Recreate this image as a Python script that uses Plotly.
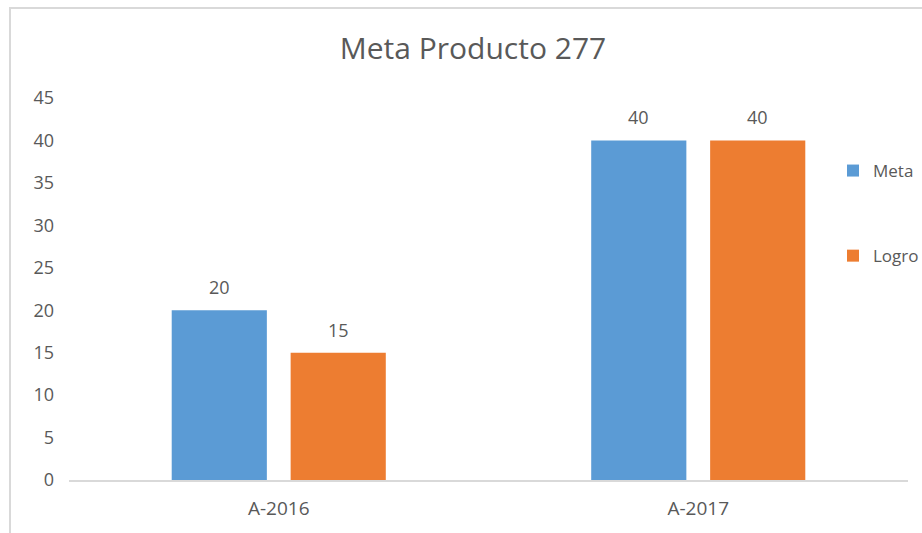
import plotly.graph_objects as go

# Data
categories = ["A-2016", "A-2017"]
meta_values = [20, 40]
logro_values = [15, 40]
series_names = ["Meta", "Logro"]
y_ticks = [0, 5, 10, 15, 20, 25, 30, 35, 40, 45]

BLUE = "#5B9BD5"
ORANGE = "#ED7D31"
TEXT = "#595959"
FONT = "Open Sans"

W, H = 922, 533
ML, MR, MT, MB = 69, 14, 98, 53
BARGAP = 0.433
BARGROUPGAP = 0.2

fig = go.Figure()
for name, vals, color, grp in [
    (series_names[0], meta_values, BLUE, "g1"),
    (series_names[1], logro_values, ORANGE, "g2"),
]:
    fig.add_trace(go.Bar(
        x=categories, y=vals, name=name,
        marker=dict(color=color, line=dict(width=0)),
        legendgroup=grp,
    ))

# Value labels above each bar, offset to the centre of each bar slot
slot = (1 - BARGAP) / 2
offsets = [-slot / 2, slot / 2]
annotations = []
for s, vals in enumerate([meta_values, logro_values]):
    for i, v in enumerate(vals):
        annotations.append(dict(
            x=i + offsets[s], y=v, xref="x", yref="y",
            text=str(v), showarrow=False, yshift=23,
            font=dict(family=FONT, size=18, color=TEXT),
        ))

pw = W - ML - MR
ph = H - MT - MB
# Chart-area frame (left and top edges visible, rest runs off the page)
frame = dict(
    type="rect", xref="paper", yref="paper",
    x0=(10 - ML) / pw, x1=(W + 10 - ML) / pw,
    y0=-(H + 10 - MT - ph) / ph, y1=(H - MB - 8) / ph,
    line=dict(color="#D9D9D9", width=2), fillcolor="rgba(0,0,0,0)",
    layer="below",
)

fig.update_layout(
    width=W, height=H,
    margin=dict(l=ML, r=MR, t=MT, b=MB, autoexpand=False),
    paper_bgcolor="white", plot_bgcolor="white",
    title=dict(text="Meta Producto 277", x=0.513, xanchor="center",
               y=1 - 48 / H, yanchor="middle",
               font=dict(family=FONT, size=30, color=TEXT)),
    barmode="group", bargap=BARGAP, bargroupgap=BARGROUPGAP,
    font=dict(family=FONT, size=18, color=TEXT),
    showlegend=True,
    legend=dict(x=(833 - ML) / pw, xanchor="left", y=(H - MB - 153) / ph,
                yanchor="top", tracegroupgap=60,
                font=dict(family=FONT, size=17, color=TEXT),
                bgcolor="rgba(0,0,0,0)"),
    xaxis=dict(showline=True, linecolor="#D9D9D9", linewidth=2,
               showgrid=False, ticks="", zeroline=False,
               tickfont=dict(family=FONT, size=19, color=TEXT),
               ticklabelstandoff=10),
    yaxis=dict(range=[0, 45], tickvals=y_ticks, showgrid=False,
               zeroline=False, showline=False, ticks="",
               tickfont=dict(family=FONT, size=18, color=TEXT),
               ticklabelstandoff=14),
    annotations=annotations,
    shapes=[frame],
)

fig.write_html("out.html")
